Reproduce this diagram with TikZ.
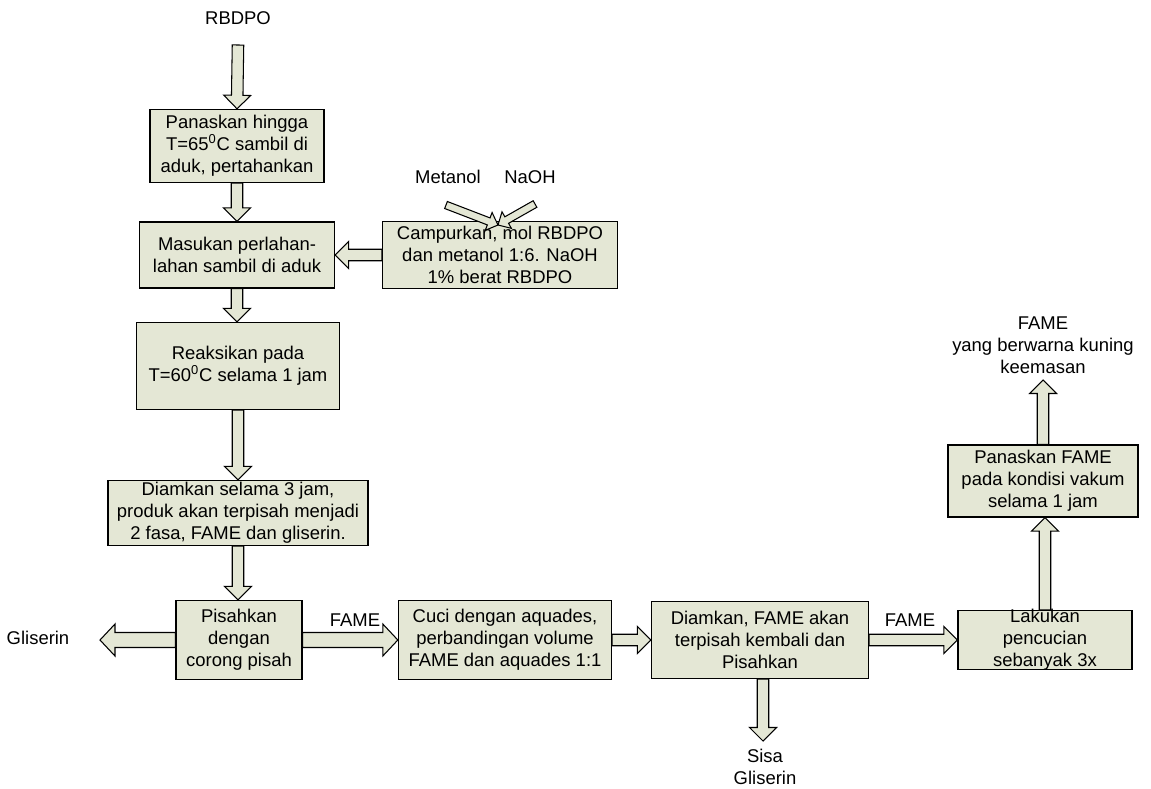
\documentclass[tikz,border=0pt]{standalone}
\usepackage{fontspec}
\setmainfont{Liberation Sans}
\usetikzlibrary{calc}
\definecolor{boxfill}{RGB}{228,231,213}
\tikzset{
  txt/.style={align=center, font=\fontsize{10.5}{12.6}\selectfont},
  box/.style={txt, draw, fill=boxfill, line width=0.8pt, inner sep=1pt},
  % hollow block arrow: #1 half shaft, #2 half head, #3 head length
  fatarrow/.style n args={3}{draw, fill=boxfill, line width=0.6pt, line join=miter,
    to path={let \p1=(\tikztostart), \p2=(\tikztotarget),
      \n1={atan2(\y2-\y1,\x2-\x1)} in
      ($(\p1)+(\n1+90:#1)$) -- ($(\p2)+(\n1+180:#3)+(\n1+90:#1)$)
      -- ($(\p2)+(\n1+180:#3)+(\n1+90:#2)$) -- (\p2)
      -- ($(\p2)+(\n1+180:#3)+(\n1-90:#2)$) -- ($(\p2)+(\n1+180:#3)+(\n1-90:#1)$)
      -- ($(\p1)+(\n1-90:#1)$) -- cycle}},
  fat/.style={fatarrow={0.115cm}{0.27cm}{0.27cm}},
  bigfat/.style={fatarrow={0.15cm}{0.32cm}{0.3cm}},
  thinfat/.style={fatarrow={0.075cm}{0.19cm}{0.2cm}},
}
\begin{document}
\begin{tikzpicture}[x=0.02cm,y=-0.02cm]
	\useasboundingbox (0,0) rectangle (1151,788);
	% main column
	\node[txt] (rbdpo) at (238,18) {RBDPO};
	\coordinate (rbdpo-out) at (238,45);
	\node[box, minimum width=3.48cm, minimum height=1.46cm] (panas) at (237,146) {Panaskan hingga\\T=65\textsuperscript{0}C sambil di\\aduk, pertahankan};
	\node[box, minimum width=3.9cm, minimum height=1.32cm] (masukan) at (237,255) {Masukan perlahan-\\lahan sambil di aduk};
	\node[box, minimum width=4.7cm, minimum height=1.34cm] (campur) at (500,255) {Campurkan, mol RBDPO\\dan metanol 1:6. NaOH\\1\% berat RBDPO};
	\node[txt] (metanol) at (448,177) {Metanol};
	\node[txt] (naoh) at (530,177) {NaOH};
	\coordinate (metanol-out) at (446,205);
	\coordinate (naoh-out) at (535,204);
	\coordinate (campur-in) at (498,225);
	\node[box, minimum width=4.06cm, minimum height=1.74cm] (reaksi) at (238,366) {Reaksikan pada\\T=60\textsuperscript{0}C selama 1 jam};
	\node[box, minimum width=5.2cm, minimum height=1.24cm] (diamkan) at (238,513) {Diamkan selama 3 jam,\\produk akan terpisah menjadi\\2 fasa, FAME dan gliserin.};
	% bottom row
	\node[box, minimum width=2.52cm, minimum height=1.58cm] (pisah) at (239,640) {Pisahkan\\dengan\\corong pisah};
	\node[txt] (gliserin) at (38,638) {Gliserin};
	\coordinate (gliserin-in) at (100,640);
	\node[box, minimum width=4.26cm, minimum height=1.58cm] (cuci) at (505,640) {Cuci dengan aquades,\\perbandingan volume\\FAME dan aquades 1:1};
	\node[txt] (fame1) at (355,620) {FAME};
	\node[box, minimum width=4.34cm, minimum height=1.54cm] (pisah2) at (760,640) {Diamkan, FAME akan\\terpisah kembali dan\\Pisahkan};
	\node[txt] (sisa) at (765,767) {Sisa\\Gliserin};
	\coordinate (sisa-in) at (763,741);
	\node[txt] (fame2) at (910,620) {FAME};
	\node[box, minimum width=3.48cm, minimum height=1.18cm] (lakukan) at (1045,640) {};
	\node[txt] at (lakukan) {Lakukan\\pencucian\\sebanyak 3x};
	% right column
	\node[box, minimum width=3.8cm, minimum height=1.44cm] (vakum) at (1043,481) {Panaskan FAME\\pada kondisi vakum\\selama 1 jam};
	\node[txt] (produk) at (1043,345) {FAME\\yang berwarna kuning\\keemasan};
	\coordinate (produk-in) at (1043,380);
	% arrows
	\draw[fat] (rbdpo-out) to (panas.north);
	\draw[fat] (panas.south) to (panas.south |- masukan.north);
	\draw[fat] (campur.west) to (masukan.east);
	\draw[thinfat] (metanol-out) to (campur-in);
	\draw[thinfat] (naoh-out) to (campur-in);
	\draw[fat] (masukan.south) to (masukan.south |- reaksi.north);
	\draw[fat] (reaksi.south) to (diamkan.north);
	\draw[fat] (diamkan.south) to (diamkan.south |- pisah.north);
	\draw[bigfat] (pisah.west) to (gliserin-in);
	\draw[bigfat] (pisah.east) to (cuci.west);
	\draw[fat] (cuci.east) to (pisah2.west);
	\draw[fat] (sisa-in |- pisah2.south) to (sisa-in);
	\draw[fat] (pisah2.east) to (lakukan.west);
	\draw[fat] (lakukan.north) to (lakukan.north |- vakum.south);
	\draw[fat] (vakum.north) to (produk-in);
\end{tikzpicture}
\end{document}
